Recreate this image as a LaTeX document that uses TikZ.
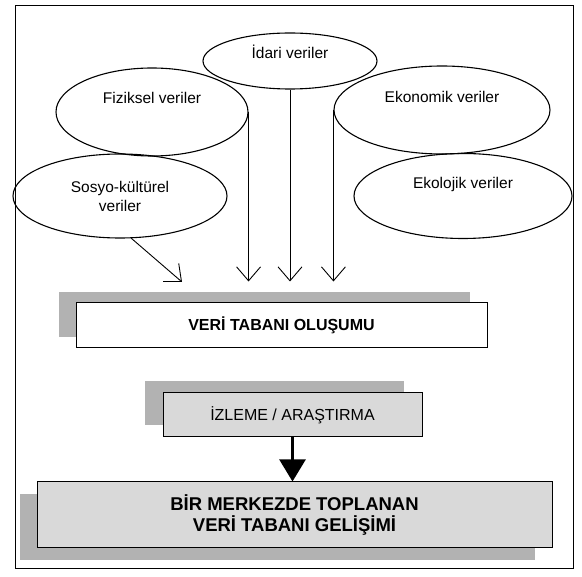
\documentclass[tikz,border=0pt]{standalone}
\usepackage{fontspec}
\setmainfont{Liberation Sans}
\usetikzlibrary{shapes.geometric, arrows.meta, positioning, shadows}

\tikzset{
  veri/.style={ellipse, draw, line width=1.1pt, inner sep=0pt, align=center,
    font=\fontsize{15.5}{19}\selectfont},
  kutu/.style={draw, line width=1pt, inner sep=0pt, align=center},
  ince/.style={-{Straight Barb[length=14pt,width=24pt]}, line width=0.9pt},
  kalin/.style={-{Triangle[length=22pt,width=26pt]}, line width=2.4pt},
}

\begin{document}
\begin{tikzpicture}[x=1pt,y=-1pt]
  \useasboundingbox (0,0) rectangle (582,577);
  % frame
  \draw[line width=1pt] (15,6) rectangle (573,569);

  % data sources
  \node[veri, minimum width=174pt, minimum height=56pt, text depth=18pt] (idari) at (290,61) {İdari veriler};
  \node[veri, minimum width=192pt, minimum height=88pt, text depth=28pt] (fiz) at (152,112) {Fiziksel veriler};
  \node[veri, minimum width=216pt, minimum height=88pt, text depth=26pt] (eko) at (442,110) {Ekonomik veriler};
  \node[veri, minimum width=214pt, minimum height=84pt] (sos) at (120,196) {Sosyo-kültürel\\veriler};
  \node[veri, minimum width=218pt, minimum height=85pt, text depth=26pt] (ekl) at (463,196) {Ekolojik veriler};

  % boxes
  \node[kutu, fill=white, minimum width=411pt, minimum height=45pt,
    general shadow={fill=gray!60, shadow xshift=-17pt, shadow yshift=11pt},
    font=\bfseries\fontsize{16}{19}\selectfont] (veri) at (281.5,325.5) {VERİ TABANI OLUŞUMU};
  \node[kutu, fill=gray!30, minimum width=259pt, minimum height=44pt,
    general shadow={fill=gray!60, shadow xshift=-18pt, shadow yshift=12pt},
    font=\fontsize{16}{19}\selectfont] (izleme) at (292.5,415) {İZLEME / ARAŞTIRMA};
  \node[kutu, fill=gray!30, minimum width=515pt, minimum height=66pt,
    general shadow={fill=gray!60, shadow xshift=-17pt, shadow yshift=-12pt},
    font=\bfseries\fontsize{18.5}{21}\selectfont] (merkez) at (294.5,515) {BİR MERKEZDE TOPLANAN\\VERİ TABANI GELİŞİMİ};

  % arrow tips above the box
  \coordinate (ucu) at ([yshift=21pt]veri.north);
  \coordinate (sosucu) at (182,282);

  \draw[ince] (fiz.east) -- (fiz.east |- ucu);
  \draw[ince] (idari.south) -- (idari.south |- ucu);
  \draw[ince] (eko.west) -- (eko.west |- ucu);
  \draw[ince] (sos.-75) -- (sosucu);
  \draw[kalin] (izleme.south) -- (izleme.south |- merkez.north);
\end{tikzpicture}
\end{document}
